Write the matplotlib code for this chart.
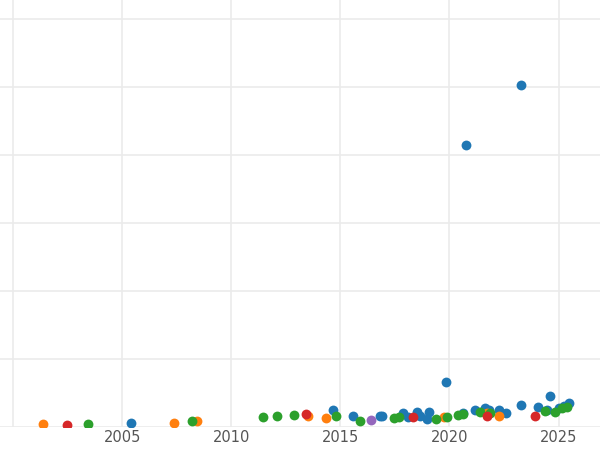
import matplotlib
matplotlib.use("Agg")
import matplotlib.pyplot as plt

blue_x = [2005.41,2014.68,2015.60,2016.83,2016.93,2017.89,2018.12,2018.49,2018.67,2019.04,2018.99,2019.86,2020.64,2020.78,2021.19,2021.61,2021.83,2022.25,2022.57,2023.26,2023.30,2024.04,2024.45,2024.63,2025.00,2025.23,2025.46]
blue_y = [0.06,0.25,0.16,0.16,0.16,0.21,0.15,0.22,0.16,0.22,0.12,0.66,0.21,4.15,0.25,0.28,0.25,0.25,0.21,0.32,5.03,0.29,0.25,0.46,0.28,0.31,0.35]
orange_x = [2001.38,2007.39,2008.44,2013.53,2014.36,2019.77,2022.29,2021.70]
orange_y = [0.04,0.06,0.09,0.16,0.13,0.15,0.16,0.21]
green_x = [2003.44,2008.21,2011.47,2012.11,2012.89,2014.82,2015.92,2017.48,2017.71,2019.40,2019.91,2020.37,2020.60,2021.42,2021.88,2024.36,2024.86,2025.18,2025.37]
green_y = [0.04,0.09,0.15,0.16,0.18,0.16,0.09,0.13,0.15,0.12,0.15,0.18,0.19,0.22,0.21,0.24,0.22,0.28,0.29]
red_x = [2002.48,2013.44,2018.35,2021.70,2023.90]
red_y = [0.03,0.19,0.15,0.16,0.16]
purple_x = [2016.42]
purple_y = [0.10]

fig = plt.figure(figsize=(6, 4.5), dpi=100)
ax = fig.add_axes([0, 0.051, 1, 0.949])
for xs, ys, c in [(blue_x, blue_y, "#1f77b4"), (orange_x, orange_y, "#ff7f0e"),
                  (green_x, green_y, "#2ca02c"), (red_x, red_y, "#d62728"),
                  (purple_x, purple_y, "#9467bd")]:
    ax.scatter(xs, ys, s=50, color=c, zorder=3, clip_on=True, linewidths=0)
ax.set_xlim(1999.4, 2026.9)
ax.set_ylim(0, 6.28)
ax.set_xticks([2000, 2005, 2010, 2015, 2020, 2025])
ax.set_xticklabels(["", "2005", "2010", "2015", "2020", "2025"])
ax.set_yticks([0, 1, 2, 3, 4, 5, 6])
ax.set_yticklabels([])
ax.grid(True, color="#ebebeb", linewidth=1.2)
ax.set_axisbelow(True)
for s in ax.spines.values():
    s.set_visible(False)
ax.tick_params(length=0, labelsize=10.5, labelcolor="#555555", pad=2)
fig.savefig("out.png")
